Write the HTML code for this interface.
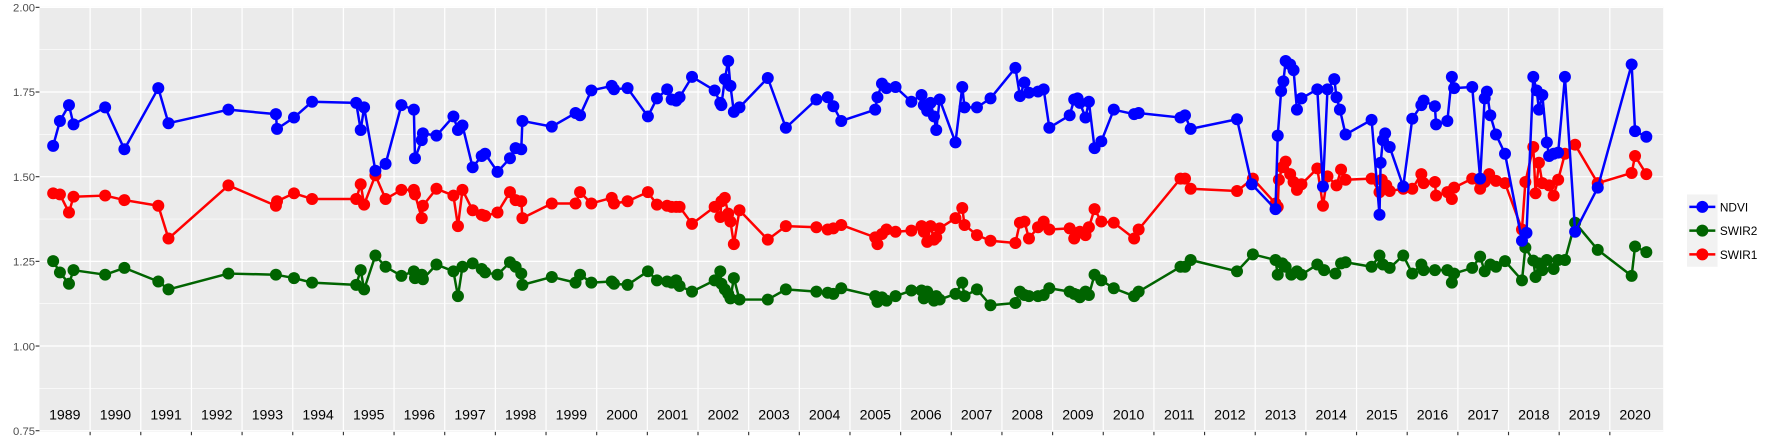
<!DOCTYPE html>
<html><head><meta charset="utf-8"><style>
html,body{margin:0;padding:0;background:#fff;}
svg{display:block;font-family:"Liberation Sans",sans-serif;}
</style></head><body>
<svg id="s" width="1773" height="442" viewBox="0 0 1568 391" preserveAspectRatio="none" xmlns="http://www.w3.org/2000/svg">
<rect x="34.9" y="6" width="1436" height="376" fill="#ebebeb"/>
<g id="grid"></g>
<g id="axes" fill="#4d4d4d" font-size="10" text-anchor="end">
<text x="31" y="10">2.00</text><text x="31" y="85">1.75</text><text x="31" y="160">1.50</text>
<text x="31" y="235">1.25</text><text x="31" y="310">1.00</text><text x="31" y="385">0.75</text>
</g>
<g id="years" font-size="12.5" fill="#000" text-anchor="middle"></g>
<g id="data"></g>
<rect x="1492" y="172" width="27" height="64" fill="#f2f2f2"/>
<g stroke-width="2.2"><line x1="1494" x2="1517" y1="183" y2="183" stroke="#0000ff"/><circle cx="1505.5" cy="183" r="5.3" fill="#0000ff"/>
<line x1="1494" x2="1517" y1="204" y2="204" stroke="#006400"/><circle cx="1505.5" cy="204" r="5.3" fill="#006400"/>
<line x1="1494" x2="1517" y1="225" y2="225" stroke="#ff0000"/><circle cx="1505.5" cy="225" r="5.3" fill="#ff0000"/></g>
<g font-size="10.5" fill="#000"><text x="1521" y="187">NDVI</text><text x="1521" y="208">SWIR2</text><text x="1521" y="229">SWIR1</text></g>
</svg>
<script>
var NS="http://www.w3.org/2000/svg";
function el(p,t,a){var e=document.createElementNS(NS,t);for(var k in a)e.setAttribute(k,a[k]);p.appendChild(e);return e;}
var g=document.getElementById('grid'),ax=document.getElementById('axes'),yr=document.getElementById('years'),d=document.getElementById('data');
[43.95,118.85,193.75,268.65,343.55].forEach(function(y){el(g,'line',{x1:34.9,x2:1470.9,y1:y,y2:y,stroke:'#fff','stroke-width':0.55});});
[6.5,81.4,156.3,231.2,306.1,381].forEach(function(y){el(g,'line',{x1:34.9,x2:1470.9,y1:y,y2:y,stroke:'#fff','stroke-width':1.1});el(ax,'line',{x1:31.5,x2:34.9,y1:y,y2:y,stroke:'#333','stroke-width':1});});
for(var k=1;k<=31;k++){var x=34.9+44.8*k;el(g,'line',{x1:x,x2:x,y1:6,y2:382,stroke:'#fff','stroke-width':1.1});el(ax,'line',{x1:x,x2:x,y1:382,y2:385,stroke:'#333','stroke-width':1});}
for(var k=0;k<32;k++){var t=el(yr,'text',{x:57.3+44.8*k,y:371});t.textContent=1989+k;}
var B=[[47,129],[53,107],[61,93],[65,110],[93,95],[110,132],[140,78],[149,109],[202,97],[244,101],[245,114],[260,104],[276,90],[315,91],[319,115],[322,95],[332,151],[341,145],[355,93],[366,97],[367,140],[373,124],[374,118],[386,120],[401,103],[405,115],[409,111],[418,148],[426,138],[429,136],[440,152],[451,140],[456,131],[461,132],[462,107],[488,112],[509,100],[513,102],[523,80],[541,76],[543,79],[555,78],[573,103],[581,87],[590,79],[594,88],[598,89],[601,86],[612,68],[632,80],[637,91],[638,93],[641,70],[644,54],[646,76],[649,99],[654,95],[679,69],[695,113],[722,88],[732,86],[737,94],[744,107],[774,97],[776,86],[780,74],[784,78],[792,77],[806,90],[815,84],[817,93],[820,98],[823,91],[826,103],[828,115],[831,88],[845,126],[851,77],[853,95],[864,95],[876,87],[898,60],[902,85],[906,73],[910,82],[918,81],[923,79],[928,113],[946,102],[950,88],[953,87],[955,91],[960,104],[963,90],[968,131],[974,125],[985,97],[1003,101],[1007,100],[1044,104],[1048,102],[1053,114],[1094,105.5],[1107,163],[1128,185],[1130,120],[1133,80.5],[1135,72],[1137,54],[1141,57],[1144,62],[1147,97],[1151,87],[1165,79],[1170,165],[1174,79],[1180,70],[1182,86],[1185,97],[1190,119],[1213,106],[1220,190],[1221,144],[1223,124],[1225,118],[1229,130],[1241,165],[1249,105],[1257,93],[1259,89],[1269,94],[1270,110],[1280,107],[1284,68],[1286,78],[1302,77],[1309,158],[1313,87],[1315,81],[1318,102],[1323,119],[1331,136],[1346,213],[1350,206],[1356,68],[1359,80],[1361,97],[1364,84],[1368,126],[1370,138],[1374,136],[1378,135],[1384,68],[1393,205],[1413,166],[1443,57],[1446,116],[1456,121]];
var R=[[47,171],[53,172],[61,188],[65,174],[93,173],[110,177],[140,182],[149,211],[202,164],[244,182],[245,178],[260,171],[276,176],[315,176],[319,163],[322,181],[332,155],[341,176],[355,168],[366,168],[367,172],[373,193],[374,182],[386,167],[401,173],[405,200],[409,168],[418,186],[426,190],[429,191],[440,188],[451,170],[456,177],[461,178],[462,193],[488,180],[509,180],[513,170],[523,180],[541,175],[543,180],[555,178],[573,170],[581,181],[590,182],[594,183],[598,183],[601,183],[612,198],[632,183],[637,192],[638,178],[641,175],[644,189],[646,196],[649,216],[654,186],[679,212],[695,200],[722,201],[732,203],[737,202],[744,199],[774,210],[776,216],[780,207],[784,203],[792,205],[806,204],[815,200],[817,205],[820,214],[823,200],[826,212],[828,210],[831,202],[845,193],[851,184],[853,199],[864,208],[876,213],[898,215],[902,197],[906,196],[910,211],[918,201],[923,196],[928,203],[946,202],[950,211],[953,206],[955,205],[960,208],[963,201],[968,185],[974,196],[985,197],[1003,211],[1007,203],[1044,158],[1048,158],[1053,167],[1094,169],[1108,158],[1128,180],[1130,183],[1131,159],[1134,148],[1137,143],[1141,154],[1144,161],[1147,168],[1151,163],[1165,149],[1170,182],[1174,156],[1182,164],[1186,150],[1190,159],[1213,158],[1220,170],[1222,159],[1226,164],[1229,169],[1241,167],[1249,167],[1257,154],[1259,162],[1269,161],[1270,173],[1280,170],[1284,176],[1286,166],[1302,158],[1309,167],[1313,161],[1317,154],[1323,160],[1331,162],[1346,203],[1349,161],[1356,130],[1358,171],[1361,144],[1364,162],[1370,164],[1374,173],[1378,159],[1384,136],[1393,128],[1413,162],[1443,153],[1446,138],[1456,154]];
var G=[[47,231],[53,241],[61,251],[65,239],[93,243],[110,237],[140,249],[149,256],[202,242],[244,243],[260,246],[276,250],[315,252],[319,239],[322,256],[332,226],[341,236],[355,244],[366,240],[367,246],[373,243],[374,247],[386,234],[401,240],[405,262],[409,236],[418,233],[426,238],[429,241],[440,243],[451,232],[456,236],[461,242],[462,252],[488,245],[509,250],[513,243],[523,250],[541,249],[543,251],[555,252],[573,240],[581,248],[590,249],[594,250],[598,248],[601,253],[612,258],[632,248],[637,240],[638,251],[641,256],[644,260],[646,264],[649,246],[654,265],[679,265],[695,256],[722,258],[732,259],[737,260],[744,255],[774,262],[776,267],[780,263],[784,266],[792,262],[806,257],[815,257],[817,264],[820,258],[823,262],[826,266],[828,262],[831,265],[845,260],[851,250],[853,262],[864,256],[876,270],[898,268],[902,258],[906,261],[910,262],[918,262],[923,261],[928,255],[946,258],[950,260],[953,261],[955,263],[960,258],[963,261],[968,243],[974,248],[985,255],[1003,262],[1007,258],[1044,236],[1048,236],[1053,230],[1094,240],[1108,225],[1128,230],[1130,243],[1134,233],[1137,236],[1142,243],[1147,240],[1151,243],[1165,234],[1171,239],[1181,242],[1186,233],[1190,232],[1213,236],[1220,226],[1223,234],[1229,237],[1241,226],[1249,242],[1257,234],[1259,239],[1269,239],[1280,239],[1284,250],[1286,242],[1302,237],[1309,227],[1313,240],[1318,234],[1323,236],[1331,231],[1346,248],[1349,219],[1356,230.5],[1358,245],[1361,233],[1364,239],[1368,230],[1374,238],[1378,230],[1384,230],[1393,197],[1413,221],[1443,244],[1446,218],[1456,223]];
[[G,'#006400'],[R,'#ff0000'],[B,'#0000ff']].forEach(function(s){
 el(d,'polyline',{points:s[0].map(function(p){return p.join(',')}).join(' '),fill:'none',stroke:s[1],'stroke-width':2.2,'stroke-linejoin':'round'});
 s[0].forEach(function(p){el(d,'circle',{cx:p[0],cy:p[1],r:5.3,fill:s[1]});});
});
</script>
</body></html>
